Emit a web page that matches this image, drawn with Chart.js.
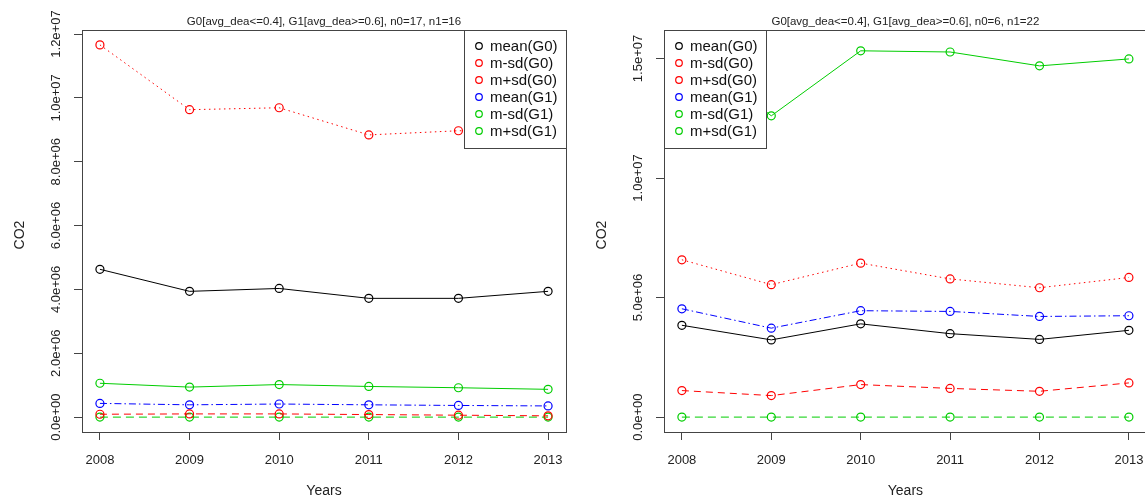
<!DOCTYPE html>
<html>
<head>
<meta charset="utf-8">
<script src="https://cdn.jsdelivr.net/npm/chart.js@4.4.0/dist/chart.umd.min.js"></script>
<style>
  html, body { margin: 0; padding: 0; background: #fff; overflow: hidden; }
  #wrap { position: relative; width: 1145px; height: 499px; overflow: hidden; }
  canvas { position: absolute; top: 0; }
</style>
</head>
<body>
<div id="wrap">
  <canvas id="left" width="572" height="499" style="left:0"></canvas>
  <canvas id="right" width="580" height="499" style="left:572px"></canvas>
</div>
<script>
var years = [2008, 2009, 2010, 2011, 2012, 2013];
var seriesNames = ["mean(G0)", "m-sd(G0)", "m+sd(G0)", "mean(G1)", "m-sd(G1)", "m+sd(G1)"];

// left panel: n0=17, n1=16
var leftMeanG0 = [4.63e6, 3.94e6, 4.03e6, 3.72e6, 3.72e6, 3.94e6];
var leftMsdG0  = [0.09e6, 0.10e6, 0.10e6, 0.08e6, 0.06e6, 0.04e6];
var leftPsdG0  = [11.66e6, 9.63e6, 9.69e6, 8.84e6, 8.97e6, 9.0e6];
var leftMeanG1 = [0.43e6, 0.385e6, 0.41e6, 0.385e6, 0.365e6, 0.35e6];
var leftMsdG1  = [0, 0, 0, 0, 0, 0];
var leftPsdG1  = [1.06e6, 0.94e6, 1.02e6, 0.96e6, 0.92e6, 0.87e6];
var leftTicks  = [0, 2e6, 4e6, 6e6, 8e6, 10e6, 12e6];

// right panel: n0=6, n1=22
var rightMeanG0 = [3.84e6, 3.23e6, 3.90e6, 3.49e6, 3.25e6, 3.63e6];
var rightMsdG0  = [1.11e6, 0.90e6, 1.36e6, 1.20e6, 1.08e6, 1.43e6];
var rightPsdG0  = [6.58e6, 5.54e6, 6.44e6, 5.78e6, 5.41e6, 5.84e6];
var rightMeanG1 = [4.53e6, 3.72e6, 4.45e6, 4.42e6, 4.21e6, 4.24e6];
var rightMsdG1  = [0, 0, 0, 0, 0, 0];
var rightPsdG1  = [15.57e6, 12.6e6, 15.32e6, 15.27e6, 14.69e6, 14.98e6];
var rightTicks  = [0, 5e6, 10e6, 15e6];

var colors = ["#000000", "#FF0000", "#FF0000", "#0000FF", "#00CD00", "#00CD00"];
var dashes = [[], [7, 5], [1.5, 3.5], [7, 3, 1.5, 3], [8, 5], []];
var FONT = '"Liberation Sans", Arial, Helvetica, sans-serif';

function sci(v) {
  if (v === 0) return "0.0e+00";
  var e = Math.floor(Math.log10(Math.abs(v)));
  var s = (v / Math.pow(10, e)).toFixed(1);
  if (s === "10.0") { e++; s = "1.0"; }
  return s + "e" + (e < 0 ? "-" : "+") + String(Math.abs(e)).padStart(2, "0");
}

// R style legend box drawn over the lines
var legendPlugin = {
  id: 'rLegend',
  afterDatasetsDraw: function(chart, args, opts) {
    var ctx = chart.ctx, a = chart.chartArea;
    var w = 102, h = 118, rowH = 17;
    var x0 = Math.round(opts.position === 'topright' ? a.right - w : a.left);
    var y0 = Math.round(a.top);
    ctx.save();
    ctx.fillStyle = '#fff';
    ctx.fillRect(x0, y0, w, h);
    ctx.strokeStyle = '#444';
    ctx.lineWidth = 1;
    ctx.strokeRect(x0 + 0.5, y0 + 0.5, w, h);
    ctx.font = '15px ' + FONT;
    ctx.textBaseline = 'middle';
    ctx.textAlign = 'left';
    chart.data.datasets.forEach(function(ds, i) {
      var cy = y0 + 16 + i * rowH;
      ctx.beginPath();
      ctx.arc(x0 + 15, cy, 3.3, 0, 2 * Math.PI);
      ctx.strokeStyle = ds.borderColor;
      ctx.lineWidth = 1.2;
      ctx.stroke();
      ctx.fillStyle = '#111';
      ctx.fillText(ds.label, x0 + 26, cy + 1);
    });
    ctx.restore();
  }
};

// frame, tick labels, axis titles and main title
var textPlugin = {
  id: 'rText',
  afterDraw: function(chart, args, opts) {
    var ctx = chart.ctx, a = chart.chartArea;
    var xs = chart.scales.x, ys = chart.scales.y;
    ctx.save();
    ctx.strokeStyle = '#444';
    ctx.lineWidth = 1;
    ctx.strokeRect(Math.round(a.left) + 0.5, Math.round(a.top) + 0.5,
                   Math.round(a.right - a.left), Math.round(a.bottom - a.top));
    ctx.fillStyle = '#222';
    ctx.font = '13px ' + FONT;
    ctx.textAlign = 'center';
    ctx.textBaseline = 'middle';
    xs.ticks.forEach(function(t) {
      ctx.fillText(String(t.value), xs.getPixelForValue(t.value), a.bottom + 28);
    });
    ys.ticks.forEach(function(t) {
      ctx.save();
      ctx.translate(a.left - 26, ys.getPixelForValue(t.value));
      ctx.rotate(-Math.PI / 2);
      ctx.fillText(sci(t.value), 0, 0);
      ctx.restore();
    });
    ctx.font = '14px ' + FONT;
    ctx.fillText('Years', (a.left + a.right) / 2, 491);
    ctx.save();
    ctx.translate(a.left - 62, (a.top + a.bottom) / 2 + 4);
    ctx.rotate(-Math.PI / 2);
    ctx.fillText('CO2', 0, 0);
    ctx.restore();
    ctx.font = '11.5px ' + FONT;
    ctx.textBaseline = 'alphabetic';
    ctx.fillText(opts.title, (a.left + a.right) / 2, a.top - 5);
    ctx.restore();
  }
};

function makeChart(id, title, series, yMin, yMax, yTicks, legendPos, yWidth, rightPad) {
  var datasets = series.map(function(vals, i) {
    return {
      label: seriesNames[i],
      data: vals.map(function(v, j) { return { x: years[j], y: v }; }),
      borderColor: colors[i],
      borderWidth: 1,
      borderDash: dashes[i],
      pointRadius: 4,
      pointBorderWidth: 1.2,
      pointBorderColor: colors[i],
      pointBackgroundColor: 'rgba(0,0,0,0)',
      fill: false
    };
  });
  return new Chart(document.getElementById(id), {
    type: 'line',
    data: { datasets: datasets },
    options: {
      responsive: false,
      animation: false,
      devicePixelRatio: 1,
      layout: { padding: { top: 30, right: rightPad, left: 0, bottom: 0 } },
      plugins: {
        legend: { display: false },
        tooltip: { enabled: false },
        rLegend: { position: legendPos },
        rText: { title: title }
      },
      scales: {
        x: {
          type: 'linear', min: 2007.8, max: 2013.2,
          afterBuildTicks: function(s) { s.ticks = years.map(function(v) { return { value: v }; }); },
          afterFit: function(s) { s.height = 67; },
          ticks: { display: false },
          grid: { drawOnChartArea: false, drawTicks: true, tickLength: 8, color: '#444', lineWidth: 1 },
          border: { display: false }
        },
        y: {
          type: 'linear', min: yMin, max: yMax,
          afterBuildTicks: function(s) { s.ticks = yTicks.map(function(v) { return { value: v }; }); },
          afterFit: function(s) { s.width = yWidth; },
          ticks: { display: false },
          grid: { drawOnChartArea: false, drawTicks: true, tickLength: 8, color: '#444', lineWidth: 1 },
          border: { display: false }
        }
      }
    },
    plugins: [legendPlugin, textPlugin]
  });
}

makeChart('left', 'G0[avg_dea<=0.4], G1[avg_dea>=0.6], n0=17, n1=16',
  [leftMeanG0, leftMsdG0, leftPsdG0, leftMeanG1, leftMsdG1, leftPsdG1],
  -0.4664e6, 12.126e6, leftTicks, 'topright', 82, 6);

makeChart('right', 'G0[avg_dea<=0.4], G1[avg_dea>=0.6], n0=6, n1=22',
  [rightMeanG0, rightMsdG0, rightPsdG0, rightMeanG1, rightMsdG1, rightPsdG1],
  -0.6228e6, 16.19e6, rightTicks, 'topleft', 92, 2);
</script>
</body>
</html>
